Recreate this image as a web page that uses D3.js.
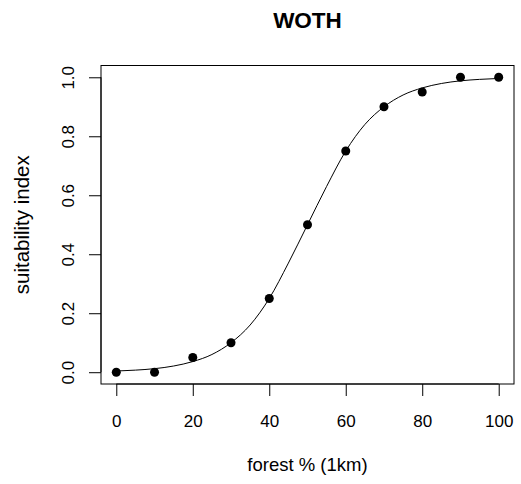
<!DOCTYPE html>
<html>
<head>
<meta charset="utf-8">
<script src="https://cdn.jsdelivr.net/npm/d3@7"></script>
<style>
  html, body { margin: 0; padding: 0; background: #fff; }
  svg { display: block; font-family: "Liberation Sans", Arial, Helvetica, sans-serif; }
</style>
</head>
<body>
<svg id="chart" width="521" height="484"></svg>
<script>
// Observed suitability at each forest cover level
const forestPct = [0, 10, 20, 30, 40, 50, 60, 70, 80, 90, 100];
const suitability = [0, 0, 0.05, 0.1, 0.25, 0.5, 0.75, 0.9, 0.95, 1, 1];

// Fitted response curve, sampled every 5%
const curveX = [0, 5, 10, 15, 20, 25, 30, 35, 40, 45, 50, 55, 60, 65, 70, 75, 80, 85, 90, 95, 100];
const curveY = [0.004, 0.007, 0.012, 0.021, 0.036, 0.06, 0.1, 0.16, 0.25, 0.37, 0.5,
                0.63, 0.75, 0.84, 0.9, 0.94, 0.964, 0.979, 0.988, 0.993, 0.996];

const xTicks = [0, 20, 40, 60, 80, 100];
const yTicks = [0, 0.2, 0.4, 0.6, 0.8, 1.0];

const titleText = "WOTH";
const xLabel = "forest % (1km)";
const yLabel = "suitability index";

const svg = d3.select("#chart");
const box = { left: 101, right: 514, top: 65.5, bottom: 384 };
const tickLen = 12;
const fontSize = 17;

// R-style 4% padding on both axis ranges
const x = d3.scaleLinear().domain([-4, 104]).range([box.left, box.right]);
const y = d3.scaleLinear().domain([-0.04, 1.04]).range([box.bottom, box.top]);

// Bottom axis
const xAxis = d3.axisBottom(x)
  .tickValues(xTicks)
  .tickSize(tickLen)
  .tickPadding(19)
  .tickFormat(d3.format("d"));
const gx = svg.append("g")
  .attr("transform", `translate(0,${box.bottom})`)
  .call(xAxis);
gx.select(".domain")
  .attr("d", `M${x(xTicks[0])},0H${x(xTicks[xTicks.length - 1])}`);

// Left axis with rotated labels
const yAxis = d3.axisLeft(y)
  .tickValues(yTicks)
  .tickSize(tickLen)
  .tickFormat(d3.format(".1f"));
const gy = svg.append("g")
  .attr("transform", `translate(${box.left},0)`)
  .call(yAxis);
gy.select(".domain")
  .attr("d", `M0,${y(yTicks[0])}V${y(yTicks[yTicks.length - 1])}`);
gy.selectAll(".tick text")
  .attr("x", null).attr("dy", null)
  .attr("text-anchor", "middle")
  .attr("transform", "translate(-27,0) rotate(-90)");

[gx, gy].forEach(g => {
  g.attr("font-family", null).attr("font-size", fontSize);
  g.selectAll(".tick text").attr("fill", "#000");
  g.selectAll("line, path").attr("stroke", "#000").attr("stroke-width", 1);
});

// Plot frame
svg.append("rect")
  .attr("x", box.left).attr("y", box.top)
  .attr("width", box.right - box.left).attr("height", box.bottom - box.top)
  .attr("fill", "none").attr("stroke", "#000").attr("stroke-width", 1);

// Fitted curve
const line = d3.line()
  .x((d, i) => x(curveX[i]))
  .y(d => y(d))
  .curve(d3.curveMonotoneX);
svg.append("path")
  .attr("d", line(curveY))
  .attr("fill", "none")
  .attr("stroke", "#000")
  .attr("stroke-width", 1);

// Observed points
svg.append("g").selectAll("circle")
  .data(forestPct)
  .join("circle")
  .attr("cx", d => x(d))
  .attr("cy", (d, i) => y(suitability[i]))
  .attr("r", 4.5)
  .attr("fill", "#000");

// Titles
svg.append("text")
  .attr("x", (box.left + box.right) / 2).attr("y", 28)
  .attr("text-anchor", "middle")
  .attr("font-weight", "bold")
  .attr("font-size", 22.5)
  .text(titleText);

svg.append("text")
  .attr("x", (box.left + box.right) / 2).attr("y", 471)
  .attr("text-anchor", "middle")
  .attr("font-size", 18.5)
  .text(xLabel);

svg.append("text")
  .attr("transform", `translate(28.5,${(box.top + box.bottom) / 2}) rotate(-90)`)
  .attr("text-anchor", "middle")
  .attr("font-size", 20.5)
  .text(yLabel);
</script>
</body>
</html>
